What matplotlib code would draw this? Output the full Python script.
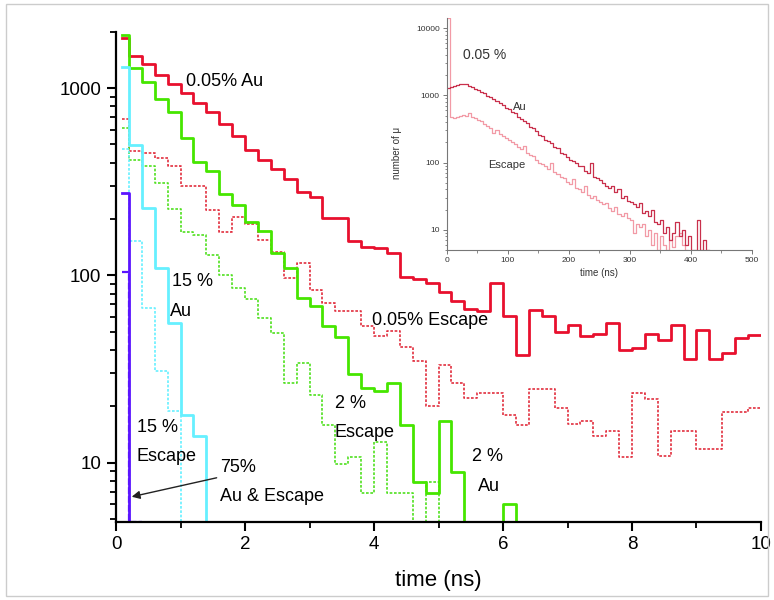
import numpy as np
import matplotlib
matplotlib.use('Agg')
import matplotlib.pyplot as plt
from matplotlib.ticker import LogLocator, NullFormatter, MultipleLocator, FixedLocator
from matplotlib.patches import Rectangle

plt.rcParams['font.family'] = ['Liberation Sans', 'DejaVu Sans']

# --- main plot: counts per 0.2 ns bin (first bin starts at 0.1 ns) ---
t_edges = np.r_[0.1, np.arange(1, 51) * 0.2]

au_005 = [1860, 1490, 1350, 1180, 1050, 938, 830, 743, 645, 552,
          469, 415, 371, 328, 280, 262, 203, 203, 152, 142,
          140, 132, 98, 95.5, 91.6, 82, 73.4, 66.1, 64.4, 91.6,
          60.7, 37.6, 65.7, 60.7, 49.7, 54.3, 47.3, 48.9, 55.8, 40.2,
          41.0, 48.9, 45.3, 54.3, 35.9, 51.4, 35.9, 38.6, 46.4, 48.3]
esc_005 = [684, 459, 450, 423, 382, 299, 299, 224, 171, 205,
           189, 154, 134, 97, 117, 84, 71.3, 64.4, 64.4, 53.5,
           47.3, 50.8, 41.7, 34.8, 20.0, 33.4, 26.7, 22.1, 23.6, 23.6,
           18.1, 16.0, 24.9, 24.9, 19.5, 16.2, 16.8, 13.9, 14.8, 10.8,
           23.7, 21.8, 10.9, 14.8, 14.8, 11.8, 11.8, 18.7, 18.7, 19.7]
au_2 = [1920, 1278, 1084, 877, 747, 541, 404, 359, 271, 239,
        194, 172, 132, 110, 75.9, 68.4, 53.5, 46.9, 29.9, 25.1,
        24.1, 26.7, 16.0, 7.9, 6.9, 16.7, 8.9, 0, 0, 0,
        6.0, 0]
esc_2 = [609, 415, 382, 310, 226, 170, 165, 129, 101, 85.2,
         75.2, 59.3, 49.0, 26.7, 33.9, 23.1, 16.0, 9.8, 10.8, 6.9,
         12.9, 6.9, 6.9, 0, 7.9, 0]
au_15 = [1288, 498, 229, 110, 55.8, 18.0, 13.9, 0]
esc_15 = [474, 152, 67.1, 30.8, 18.8, 0]
au_75 = [276, 0]
esc_75 = [104, 0]

# --- inset: 0.05 % sample, 5 ns bins ---
ins_edges = np.arange(0, 436, 5)
ins_au = [1300, 1350, 1380, 1420, 1470, 1480, 1450, 1400, 1330, 1260,
          1200, 1120, 1080, 990, 960, 870, 820, 760, 720, 650,
          620, 560, 540, 480, 450, 410, 390, 340, 330, 290,
          260, 250, 220, 210, 195, 170, 165, 140, 135, 120,
          110, 105, 98, 88, 90, 75, 70, 100, 62, 58,
          55, 50, 45, 42, 45, 36, 40, 30, 32, 27,
          26, 24, 22, 25, 18, 19, 16, 20, 13, 12,
          14, 9, 11, 7, 9, 13, 8, 10, 6, 8,
          0, 0, 14, 0, 7, 0]
ins_esc = [14000, 470, 460, 480, 500, 510, 490, 540, 470, 460,
           430, 410, 380, 350, 330, 280, 310, 270, 250, 230,
           220, 200, 190, 170, 160, 175, 140, 130, 125, 110,
           100, 96, 88, 80, 100, 72, 68, 62, 58, 52,
           48, 56, 42, 40, 37, 45, 33, 30, 32, 28,
           26, 24, 25, 21, 19, 22, 17, 16, 18, 15,
           14, 9, 12, 11, 12, 8, 10, 6, 9, 0,
           8, 6, 0, 7, 5.5, 8, 9, 6, 0]


def stair(ax, edges, vals, floor, **kw):
    # empty bins sit on the bottom of the axis
    v = np.asarray(vals, float)
    v = np.where(v <= 0, floor, v)
    e = edges[:len(v) + 1]
    ax.step(e, np.append(v, v[-1]), where='post', **kw)


fig = plt.figure(figsize=(7.74, 6.0), dpi=100)
ax = fig.add_axes([0.1499, 0.1305, 0.8333, 0.8167])

ymin, ymax = 4.85, 2000
red = '#e8102e'
green = '#46e600'
cyan = '#66f0ff'
purple = '#5a14ff'
dot = (0, (1.6, 1.0))

stair(ax, t_edges, esc_005, ymin, color='#e23040', lw=1.2, ls=dot)
stair(ax, t_edges, esc_2, ymin, color='#50e020', lw=1.2, ls=dot)
stair(ax, t_edges, esc_15, ymin, color=cyan, lw=1.2, ls=dot)
stair(ax, t_edges, au_005, ymin, color=red, lw=2.0)
stair(ax, t_edges, au_2, ymin, color=green, lw=2.0)
stair(ax, t_edges, au_15, ymin, color=cyan, lw=2.0)
stair(ax, t_edges, esc_75, ymin, color=purple, lw=1.6, ls=(0, (3, 1)))
stair(ax, t_edges, au_75, ymin, color=purple, lw=2.0)

ax.set_yscale('log')
ax.set_ylim(ymin, ymax)
ax.set_xlim(0, 10)
for s in ['top', 'right']:
    ax.spines[s].set_visible(False)
for s in ['left', 'bottom']:
    ax.spines[s].set_linewidth(1.6)

ax.xaxis.set_major_locator(MultipleLocator(2))
ax.xaxis.set_minor_locator(MultipleLocator(1))
ax.yaxis.set_major_locator(FixedLocator([10, 100, 1000]))
ax.yaxis.set_major_formatter(matplotlib.ticker.FixedFormatter(['10', '100', '1000']))
ax.yaxis.set_minor_locator(LogLocator(base=10, subs=np.arange(2, 10)))
ax.yaxis.set_minor_formatter(NullFormatter())
ax.tick_params(which='major', direction='out', length=6.5, width=1.5,
               labelsize=13.5, pad=4)
ax.tick_params(which='minor', direction='out', length=4, width=1.3)
ax.set_xlabel('time (ns)', fontsize=16, labelpad=12)

fs = 13
ax.text(1.085, 1084, '0.05% Au', fontsize=fs, va='center')
ax.text(0.864, 93, '15 %', fontsize=fs, va='center')
ax.text(0.837, 64.4, 'Au', fontsize=fs, va='center')
ax.text(0.32, 15.4, '15 %', fontsize=fs, va='center')
ax.text(0.31, 10.8, 'Escape', fontsize=fs, va='center')
ax.text(1.61, 9.44, '75%', fontsize=fs, va='center')
ax.text(1.61, 6.61, 'Au & Escape', fontsize=fs, va='center')
ax.text(3.964, 57.4, '0.05% Escape', fontsize=fs, va='center')
ax.text(3.395, 20.7, '2 %', fontsize=fs, va='center')
ax.text(3.395, 14.6, 'Escape', fontsize=fs, va='center')
ax.text(5.767, 10.8, '2 %', fontsize=fs, va='center', ha='center')
ax.text(5.78, 7.5, 'Au', fontsize=fs, va='center', ha='center')
ax.annotate('', xy=(0.243, 6.59), xytext=(1.56, 8.32),
            arrowprops=dict(arrowstyle='-|>', color='#222222', lw=1.0,
                            mutation_scale=12, shrinkA=0, shrinkB=0))

# --- inset ---
ins = fig.add_axes([0.5771, 0.5833, 0.3941, 0.3862])
ins.set_facecolor('white')
imin = 5.0
stair(ins, ins_edges, ins_esc, imin, color='#f29aa6', lw=0.9)
stair(ins, ins_edges, ins_au, imin, color='#c9304c', lw=0.9)
ins.set_yscale('log')
ins.set_ylim(imin, 14000)
ins.set_xlim(0, 500)
for s in ['top', 'right']:
    ins.spines[s].set_visible(False)
for s in ['left', 'bottom']:
    ins.spines[s].set_linewidth(0.8)
    ins.spines[s].set_color('#777777')
ins.xaxis.set_major_locator(MultipleLocator(100))
ins.xaxis.set_minor_locator(MultipleLocator(50))
ins.yaxis.set_major_locator(FixedLocator([10, 100, 1000, 10000]))
ins.yaxis.set_major_formatter(matplotlib.ticker.FixedFormatter(['10', '100', '1000', '10000']))
ins.yaxis.set_minor_locator(LogLocator(base=10, subs=np.arange(2, 10)))
ins.yaxis.set_minor_formatter(NullFormatter())
ins.tick_params(which='major', direction='out', length=3, width=0.7,
                color='#777777', labelsize=6, labelcolor='#333333', pad=2)
ins.tick_params(which='minor', direction='out', length=1.8, width=0.6,
                color='#777777')
ins.set_xlabel('time (ns)', fontsize=7, color='#333333', labelpad=3)
ins.set_ylabel('number of μ', fontsize=7, color='#333333')
ins.yaxis.set_label_coords(-0.148, 0.42)
ins.text(27, 4010, '0.05 %', fontsize=10, va='center', color='#333333')
ins.text(108.7, 668, 'Au', fontsize=8, va='center', color='#333333')
ins.text(67.7, 90.6, 'Escape', fontsize=8, va='center', color='#333333')

fig.patches.append(Rectangle((6 / 774, 4 / 600), 762 / 774, 592 / 600,
                             transform=fig.transFigure, fill=False,
                             ec='#cccccc', lw=1))

fig.savefig('out.png', dpi=100)
